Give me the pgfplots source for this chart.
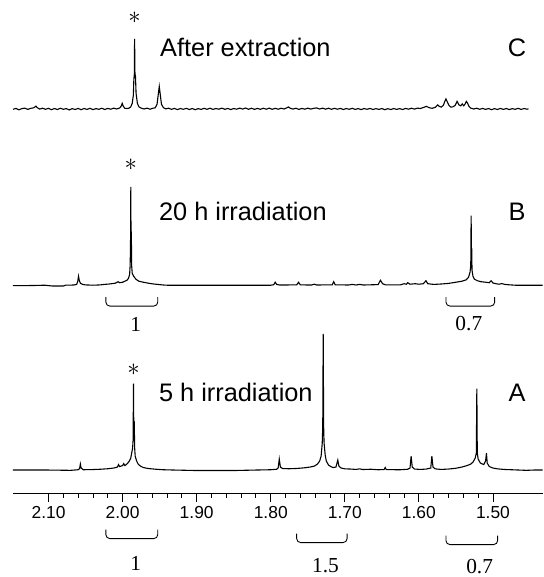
\documentclass[border=0pt]{standalone}
\usepackage{pgfplots}
\pgfplotsset{compat=1.18}
\usepackage{pgfplotstable}
\usepackage{fontspec}
\setmainfont{Liberation Sans}
\newfontfamily\serifnum{Liberation Serif}

\pgfplotstableread{
x y
2.148 0.0
2.144 0.9
2.140 -0.5
2.136 0.7
2.132 1.2
2.128 -0.1
2.124 1.0
2.120 1.5
2.117 3.2
2.115 1.6
2.112 0.2
2.108 1.1
2.104 0.0
2.100 1.0
2.096 -0.4
2.092 0.8
2.088 -0.2
2.084 1.1
2.080 0.0
2.076 0.7
2.072 -0.6
2.068 0.7
2.064 -0.2
2.060 0.9
2.056 -0.4
2.052 0.8
2.048 -0.1
2.044 1.0
2.040 -0.3
2.036 0.7
2.032 0.0
2.028 1.1
2.024 -0.2
2.020 0.9
2.016 0.1
2.012 1.2
2.008 0.3
2.004 1.3
2.002 3.0
2.0005 6.0
1.999 3.0
1.997 1.0
1.994 0.8
1.991 1.2
1.989 2.5
1.987 6
1.9855 14
1.9848 30
1.9842 35
1.9838 71
1.9833 36
1.9826 33
1.9818 16
1.980 6
1.978 2.5
1.975 1.2
1.971 0.3
1.967 1.2
1.963 0.1
1.959 1.1
1.956 1.5
1.9535 5
1.9515 17
1.9505 23
1.9495 17
1.9475 5
1.945 1.8
1.942 0.4
1.938 1.1
1.934 0.0
1.930 0.9
1.926 -0.3
1.922 0.8
1.918 0.0
1.914 1.0
1.910 -0.2
1.906 0.8
1.902 -0.4
1.898 0.7
1.894 -0.1
1.890 1.0
1.886 0.0
1.882 1.1
1.878 -0.1
1.874 0.8
1.870 0.1
1.866 1.2
1.862 0.0
1.858 0.9
1.854 -0.3
1.850 0.8
1.846 0.1
1.842 1.2
1.838 0.2
1.834 1.3
1.830 0.0
1.826 1.1
1.822 -0.1
1.818 0.9
1.814 0.0
1.810 1.1
1.806 0.1
1.802 1.2
1.798 0.0
1.794 1.0
1.790 0.1
1.786 1.1
1.782 0.3
1.778 1.6
1.776 2.4
1.774 1.2
1.770 0.2
1.766 1.1
1.762 -0.1
1.758 0.9
1.754 0.1
1.750 1.2
1.746 0.2
1.742 1.0
1.738 1.4
1.734 0.3
1.730 1.2
1.726 0.1
1.722 1.1
1.718 0.0
1.714 1.0
1.710 0.1
1.706 0.9
1.702 -0.2
1.698 0.8
1.694 0.0
1.690 1.0
1.686 -0.1
1.682 0.7
1.678 -0.3
1.674 0.8
1.670 0.0
1.666 0.9
1.662 -0.2
1.658 0.7
1.654 -0.1
1.650 0.8
1.646 -0.4
1.642 0.6
1.638 -0.2
1.634 0.8
1.630 -0.1
1.626 0.7
1.622 -0.2
1.618 0.9
1.614 0.1
1.610 1.1
1.606 0.2
1.602 1.2
1.598 0.8
1.594 1.8
1.590 3.0
1.586 1.6
1.582 1.0
1.578 2.0
1.5745 4.5
1.5725 3.0
1.570 2.2
1.567 4
1.565 8
1.5635 10.5
1.562 8
1.5595 4
1.557 2.2
1.554 2.5
1.551 4
1.5485 8
1.546 4.5
1.5435 3.5
1.5415 5.5
1.5395 3.5
1.5375 5.5
1.536 8
1.5345 6.5
1.5325 3
1.530 1.2
1.526 0.3
1.522 1.1
1.518 0.0
1.514 0.9
1.510 -0.1
1.506 0.8
1.502 -0.4
1.498 0.7
1.494 -0.2
1.490 0.9
1.486 -0.1
1.482 0.8
1.478 -0.3
1.474 0.7
1.470 0.0
1.466 1.0
1.462 -0.1
1.458 0.8
1.454 0.1
1.452 0.5
}\traceC

\pgfplotstableread{
x y
2.148 -0.5
2.120 -0.3
2.105 0.0
2.095 -0.8
2.080 -0.8
2.077 0.0
2.066 0.2
2.062 0.8
2.0605 4
2.0595 9
2.0585 5
2.057 2
2.054 0.8
2.050 0.3
2.040 0.0
2.030 0.3
2.025 0.8
2.018 1.2
2.010 2
2.006 3.5
2.004 2.5
2.000 3
1.997 4
1.994 5
1.992 7
1.9905 11
1.9898 20
1.9893 40
1.9889 99
1.9885 25
1.9882 54
1.9878 20
1.987 12
1.985 9
1.982 6
1.978 4
1.972 3
1.965 2
1.958 1.2
1.950 0.6
1.945 0.2
1.940 0.0
1.800 0.0
1.796 0.5
1.794 3
1.792 0.8
1.788 0.2
1.765 0.3
1.7625 3
1.760 0.3
1.745 0.2
1.741 1.0
1.738 0.2
1.717 0.4
1.715 3.5
1.713 0.4
1.695 0.2
1.690 0.8
1.685 0.2
1.680 0.8
1.675 0.2
1.655 0.6
1.652 5
1.649 1.5
1.645 0.3
1.625 0.3
1.620 1.5
1.617 1.0
1.615 2.5
1.612 1.0
1.605 1.5
1.600 1.0
1.594 1.5
1.5905 4.5
1.588 1.5
1.580 0.8
1.570 1.2
1.560 1.8
1.550 3
1.542 4
1.536 5.5
1.533 8
1.531 13
1.5300 20
1.5295 70
1.5290 25
1.5287 37
1.5283 15
1.527 9
1.525 6
1.521 4.5
1.516 3.5
1.510 3
1.505 2.5
1.5025 4.5
1.500 2.2
1.496 1.5
1.492 1.0
1.488 1.6
1.484 0.8
1.478 0.4
1.470 0.0
1.433 0.0
}\traceB

\pgfplotstableread{
x y
2.148 0
2.100 0
2.070 -0.3
2.060 0.3
2.058 1.5
2.057 6
2.056 2
2.053 0.3
2.040 0.5
2.030 0.8
2.020 1.3
2.012 2
2.007 3
2.0055 5.5
2.004 3.5
2.002 4
2.000 4.5
1.9985 6.5
1.997 4.5
1.995 5.5
1.993 7
1.991 9
1.989 12
1.9875 18
1.9865 22
1.9858 30
1.9853 87
1.9848 30
1.9843 49
1.9837 22
1.983 14
1.981 9
1.979 6
1.976 4
1.972 2.5
1.965 1.5
1.955 0.8
1.945 0.3
1.930 0.0
1.900 -0.5
1.850 -0.5
1.820 0.0
1.800 0.3
1.792 0.8
1.790 2
1.7885 11
1.787 3
1.784 1.5
1.775 1.3
1.765 1.6
1.755 2.2
1.747 3
1.741 4
1.737 6
1.734 9
1.732 14
1.7305 27
1.7298 44
1.7292 137
1.7286 44
1.728 27
1.7265 15
1.725 9
1.722 5
1.719 3.5
1.716 2.5
1.712 3
1.7095 10
1.708 4
1.705 2
1.700 1.2
1.692 1.0
1.685 0.6
1.680 1.2
1.676 0.5
1.665 0.8
1.655 0.3
1.647 0.5
1.6455 2.5
1.644 0.4
1.625 0.3
1.615 0.8
1.612 2
1.6105 14
1.609 3
1.606 1.0
1.598 0.6
1.590 1.0
1.584 2
1.5825 14
1.581 3
1.578 1.2
1.570 0.6
1.560 1.0
1.550 1.8
1.542 3
1.535 4.5
1.530 6
1.527 8
1.524 12
1.5225 17
1.5218 82
1.5212 17
1.520 11
1.517 7
1.5125 5.5
1.510 9
1.5088 17
1.5078 7
1.505 3.5
1.500 2
1.494 1.2
1.485 0.6
1.475 0.3
1.465 0.0
1.455 -0.3
1.445 0.0
1.433 0.0
}\traceA

\begin{document}
\begin{tikzpicture}
\begin{axis}[
  scale only axis,
  width=533pt, height=497pt,
  xmin=1.433, xmax=2.148, ymin=0, ymax=497,
  x dir=reverse,
  axis x line=bottom, axis y line=none,
  x axis line style={-, line width=0.9pt},
  xtick={1.5,1.6,1.7,1.8,1.9,2.0,2.1},
  minor x tick num=4,
  tick align=outside,
  major tick length=8pt, minor tick length=4pt,
  tick style={black, line width=0.9pt},
  xticklabel style={font=\fontsize{17.5}{18}\selectfont, yshift=-1pt,
    /pgf/number format/.cd, fixed, fixed zerofill, precision=2, assume math mode=true},
  clip=false,
]
\addplot[black, line width=1.1pt] table[x=x, y expr=\thisrow{y}+387] {\traceC};
\addplot[black, line width=1.1pt] table[x=x, y expr=\thisrow{y}+210] {\traceB};
\addplot[black, line width=1.1pt] table[x=x, y expr=\thisrow{y}+24] {\traceA};

% bounding box helpers
\path (axis cs:2.1655,497) (axis cs:1.433,-80);

% labels
\node[anchor=base west, font=\fontsize{25.5}{30}\selectfont] at (axis cs:1.954,440) {After extraction};
\node[anchor=base, font=\fontsize{25.5}{30}\selectfont] at (axis cs:1.4675,440) {C};
\node[anchor=base west, font=\fontsize{25.5}{30}\selectfont] at (axis cs:1.9555,275) {20 h irradiation};
\node[anchor=base, font=\fontsize{25.5}{30}\selectfont] at (axis cs:1.4675,275) {B};
\node[anchor=base west, font=\fontsize{25.5}{30}\selectfont] at (axis cs:1.9555,93) {5 h irradiation};
\node[anchor=base, font=\fontsize{25.5}{30}\selectfont] at (axis cs:1.4675,93) {A};

% asterisks
\node[inner sep=0pt, font=\fontsize{27}{27}\selectfont] at (axis cs:1.9838,479) {$\ast$};
\node[inner sep=0pt, font=\fontsize{27}{27}\selectfont] at (axis cs:1.9889,331) {$\ast$};
\node[inner sep=0pt, font=\fontsize{27}{27}\selectfont] at (axis cs:1.9853,125) {$\ast$};

% integration brackets
\draw[line width=0.9pt, rounded corners=4pt] (axis cs:2.0226,198) -- (axis cs:2.0226,189) -- (axis cs:1.9525,189) -- (axis cs:1.9525,198);
\draw[line width=0.9pt, rounded corners=4pt] (axis cs:1.5635,198) -- (axis cs:1.5635,189) -- (axis cs:1.4977,189) -- (axis cs:1.4977,198);
\node[font=\serifnum\fontsize{21.5}{22}\selectfont] at (axis cs:1.9822,171) {1};
\node[font=\serifnum\fontsize{21.5}{22}\selectfont] at (axis cs:1.5326,171) {0.7};

\draw[line width=0.9pt, rounded corners=4pt] (axis cs:2.0226,-36) -- (axis cs:2.0226,-45) -- (axis cs:1.9525,-45) -- (axis cs:1.9525,-36);
\draw[line width=0.9pt, rounded corners=4pt] (axis cs:1.765,-40) -- (axis cs:1.765,-49) -- (axis cs:1.697,-49) -- (axis cs:1.697,-40);
\draw[line width=0.9pt, rounded corners=4pt] (axis cs:1.5635,-42) -- (axis cs:1.5635,-51) -- (axis cs:1.4937,-51) -- (axis cs:1.4937,-42);
\node[font=\serifnum\fontsize{21.5}{22}\selectfont] at (axis cs:1.9822,-70) {1};
\node[font=\serifnum\fontsize{21.5}{22}\selectfont] at (axis cs:1.726,-72) {1.5};
\node[font=\serifnum\fontsize{21.5}{22}\selectfont] at (axis cs:1.518,-73) {0.7};
\end{axis}
\end{tikzpicture}
\end{document}
